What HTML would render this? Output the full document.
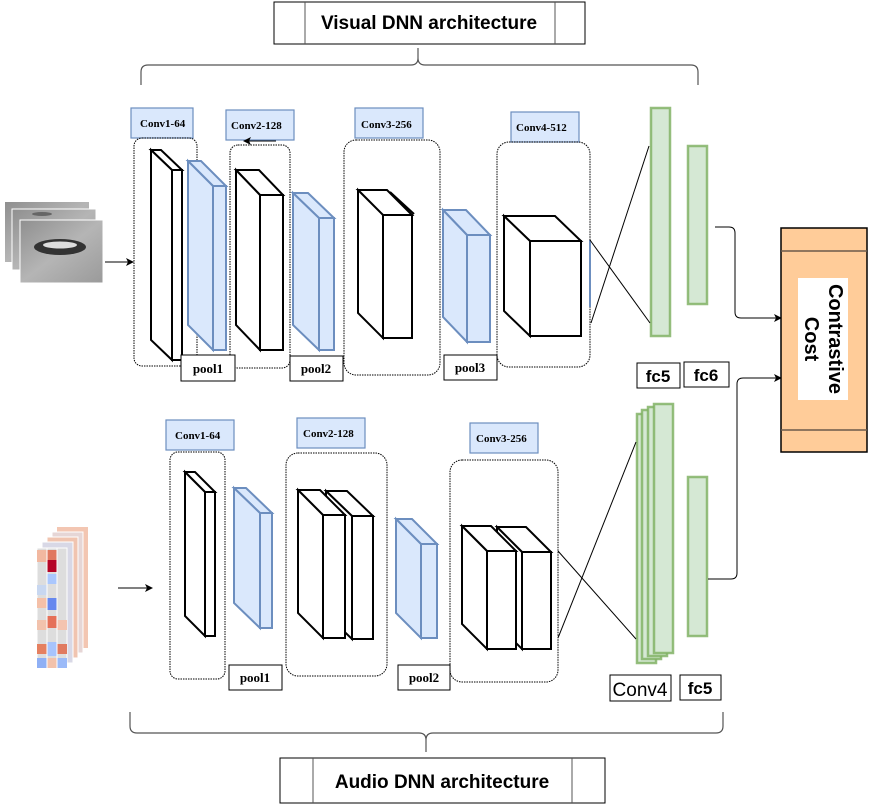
<!DOCTYPE html>
<html><head><meta charset="utf-8"><style>
html,body{margin:0;padding:0;background:#fff;}
svg{display:block;}
text{font-family:"Liberation Serif",serif;font-weight:bold;}
.s{font-family:"Liberation Sans",sans-serif;}
</style></head><body>
<svg width="878" height="806" viewBox="0 0 878 806" xmlns="http://www.w3.org/2000/svg">
<defs>
<marker id="ar" markerWidth="8" markerHeight="8" refX="7" refY="4" orient="auto" markerUnits="userSpaceOnUse"><path d="M0,0 L8,4 L0,8 L2,4 z" fill="#000"/></marker>
<linearGradient id="fg" x1="0" y1="0" x2="1" y2="1"><stop offset="0" stop-color="#8f8f8f"/><stop offset="0.5" stop-color="#b5b5b5"/><stop offset="1" stop-color="#9a9a9a"/></linearGradient>
</defs>

<rect x="274" y="2" width="311" height="42" fill="#fff" stroke="#000" stroke-width="1"/>
<line x1="305" y1="2" x2="305" y2="44" stroke="#555"/>
<line x1="555" y1="2" x2="555" y2="44" stroke="#555"/>
<text class="s" x="429" y="29" font-size="19" text-anchor="middle">Visual DNN architecture</text>
<path d="M141,85 L141,72 Q141,65 148,65 L411,65 Q418,65 418,58 L418,48 M418,58 Q418,65 425,65 L691,65 Q698,65 698,72 L698,85" fill="none" stroke="#555" stroke-width="1.2"/>

<path d="M130,712 L130,726 Q130,733 137,733 L419,733 Q426,733 426,740 L426,752 M426,740 Q426,733 433,733 L716,733 Q723,733 723,726 L723,712" fill="none" stroke="#555" stroke-width="1.2"/>
<rect x="280" y="758" width="325" height="45" fill="#fff" stroke="#000"/>
<line x1="313" y1="758" x2="313" y2="803" stroke="#555"/>
<line x1="572" y1="758" x2="572" y2="803" stroke="#555"/>
<text class="s" x="442" y="788" font-size="19" text-anchor="middle">Audio DNN architecture</text>

<rect x="5" y="202" width="84" height="60" fill="url(#fg)"/>
<rect x="12" y="209" width="84" height="61" fill="url(#fg)" stroke="#fff" stroke-width="1"/>
<rect x="20" y="220" width="83" height="63" fill="url(#fg)" stroke="#fff" stroke-width="1"/>
<ellipse cx="60" cy="247" rx="26" ry="8" fill="#333"/>
<ellipse cx="60" cy="245" rx="17" ry="3.5" fill="#ddd"/>
<ellipse cx="42" cy="214" rx="10" ry="2" fill="#666"/>
<line x1="105" y1="262" x2="133" y2="262" stroke="#000" marker-end="url(#ar)"/>

<g fill="#dae8fc" stroke="#6c8ebf" stroke-width="1.2">
<rect x="131" y="108" width="62" height="30"/>
<rect x="226" y="110" width="68" height="30"/>
<rect x="355" y="108" width="68" height="30"/>
<rect x="511" y="112" width="68" height="30"/>
<rect x="166" y="420" width="68" height="30"/>
<rect x="297" y="418" width="68" height="30"/>
<rect x="470" y="423" width="68" height="30"/>
</g>
<g font-size="11">
<text x="140" y="127">Conv1-64</text>
<text x="231" y="129">Conv2-128</text>
<text x="361" y="128">Conv3-256</text>
<text x="516" y="131">Conv4-512</text>
<text x="175" y="439">Conv1-64</text>
<text x="303" y="437">Conv2-128</text>
<text x="476" y="442">Conv3-256</text>
</g>
<line x1="276" y1="141" x2="244" y2="141" stroke="#000" marker-end="url(#ar)"/>

<g fill="none" stroke="#000" stroke-width="1" stroke-dasharray="1.5,1">
<rect x="134" y="138" width="63" height="228" rx="8"/>
<rect x="230" y="145" width="60" height="223" rx="8"/>
<rect x="344" y="140" width="96" height="235" rx="12"/>
<rect x="497" y="142" width="93" height="225" rx="12"/>
<rect x="170" y="452" width="55" height="227" rx="8"/>
<rect x="286" y="453" width="101" height="223" rx="12"/>
<rect x="450" y="460" width="108" height="222" rx="12"/>
</g>

<g stroke="#000" stroke-width="2" fill="#fff" stroke-linejoin="miter">
<polygon points="151,150 161,150 182,170 172,170"/><polygon points="151,150 172,170 172,360 151,340"/><rect x="172" y="170" width="10" height="190"/>
<polygon points="236,170 259,170 283,195 260,195"/><polygon points="236,170 260,195 260,350 236,325"/><rect x="260" y="195" width="23" height="155"/>
<polygon points="358,190 387,190 412,215 383,215"/><polygon points="358,190 383,215 383,338 358,313"/><rect x="383" y="215" width="29" height="123"/>
<line x1="390" y1="192" x2="414" y2="214"/>
<polygon points="504,216 555,216 581,241 530,241"/><polygon points="504,216 530,241 530,336 504,311"/><rect x="530" y="241" width="51" height="95"/>
<polygon points="185,472 195,472 215,492 205,492"/><polygon points="185,472 205,492 205,636 185,616"/><rect x="205" y="492" width="10" height="144"/>
<polygon points="326,491 347,491 373,516 352,516"/><polygon points="326,491 352,516 352,639 326,614"/><rect x="352" y="516" width="21" height="123"/>
<polygon points="298,490 320,490 345,515 323,515"/><polygon points="298,490 323,515 323,638 298,613"/><rect x="323" y="515" width="22" height="123"/>
<polygon points="497,527 526,527 551,552 522,552"/><polygon points="497,527 522,552 522,649 497,624"/><rect x="522" y="552" width="29" height="97"/>
<polygon points="462,526 491,526 516,551 487,551"/><polygon points="462,526 487,551 487,649 462,624"/><rect x="487" y="551" width="29" height="98"/>
</g>
<g stroke="#6c8ebf" stroke-width="2" fill="#dae8fc">
<polygon points="188,161 201,161 226,186 213,186"/><polygon points="188,161 213,186 213,350 188,325"/><rect x="213" y="186" width="13" height="164"/>
<polygon points="293,193 308,193 334,218 319,218"/><polygon points="293,193 319,218 319,350 293,325"/><rect x="319" y="218" width="15" height="132"/>
<polygon points="443,210 466,210 490,235 467,235"/><polygon points="443,210 467,235 467,342 443,317"/><rect x="467" y="235" width="23" height="107"/>
<polygon points="234,488 246,488 272,513 260,513"/><polygon points="234,488 260,513 260,628 234,603"/><rect x="260" y="513" width="12" height="115"/>
<polygon points="396,519 412,519 437,544 421,544"/><polygon points="396,519 421,544 421,638 396,613"/><rect x="421" y="544" width="16" height="94"/>
</g>
<line x1="590" y1="240" x2="590" y2="307" stroke="#6c8ebf" stroke-width="2"/>

<g fill="#fff" stroke="#000" stroke-width="1">
<rect x="181" y="355" width="54" height="26"/>
<rect x="290" y="356" width="53" height="25"/>
<rect x="444" y="355" width="53" height="25"/>
<rect x="229" y="665" width="53" height="25"/>
<rect x="398" y="665" width="52" height="25"/>
<rect x="637" y="363" width="43" height="25"/>
<rect x="684" y="362" width="45" height="25"/>
<rect x="610" y="675" width="61" height="26"/>
<rect x="680" y="675" width="41" height="25"/>
</g>
<g font-size="13">
<text x="208" y="373" text-anchor="middle">pool1</text>
<text x="316" y="373" text-anchor="middle">pool2</text>
<text x="470" y="372" text-anchor="middle">pool3</text>
<text x="255" y="682" text-anchor="middle">pool1</text>
<text x="424" y="682" text-anchor="middle">pool2</text>
</g>
<text class="s" x="658" y="382" font-size="17" text-anchor="middle">fc5</text>
<text class="s" x="706" y="381" font-size="17" text-anchor="middle">fc6</text>
<text class="s" x="700" y="694" font-size="17" text-anchor="middle">fc5</text>
<text class="s" x="640" y="696" font-size="19" text-anchor="middle" style="font-weight:normal">Conv4</text>

<g fill="#d5e8d4" stroke="#82b366" stroke-width="2.5" stroke-opacity="0.85">
<rect x="651" y="108" width="19" height="228"/>
<rect x="688" y="146" width="19" height="158"/>
<rect x="637" y="414" width="19" height="249"/>
<rect x="642" y="410" width="19" height="249"/>
<rect x="648" y="407" width="19" height="249"/>
<rect x="654" y="404" width="19" height="249"/>
<rect x="688" y="477" width="19" height="159"/>
</g>

<g stroke="#000" stroke-width="1" fill="none">
<line x1="590" y1="240" x2="650" y2="323"/>
<line x1="591" y1="323" x2="649" y2="146"/>
<line x1="558" y1="551" x2="636" y2="639"/>
<line x1="558" y1="638" x2="636" y2="442"/>
<path d="M715,227 L729,227 Q735,227 735,233 L735,312 Q735,318 741,318 L781,318" marker-end="url(#ar)"/>
<path d="M708,579 L731,579 Q737,579 737,573 L737,384 Q737,378 743,378 L781,378" marker-end="url(#ar)"/>
</g>

<rect x="781" y="228" width="86" height="224" fill="#ffcc99" stroke="#000" stroke-width="1.5"/>
<line x1="781" y1="251" x2="867" y2="251" stroke="#6b5a4a" stroke-width="1.5"/>
<line x1="781" y1="430" x2="867" y2="430" stroke="#6b5a4a" stroke-width="1.5"/>
<rect x="798" y="278" width="50" height="122" fill="#fff"/>
<text class="s" transform="translate(823,339) rotate(90)" font-size="20" text-anchor="middle"><tspan x="0" y="-6">Contrastive</tspan><tspan x="0" y="18">Cost</tspan></text>

<g>
<rect x="57" y="527" width="31" height="121" fill="#f3c6b2"/>
<rect x="52" y="532" width="31" height="121" fill="#e6d6d6" stroke="#fff"/>
<rect x="47" y="537" width="31" height="121" fill="#f0c4b0" stroke="#fff"/>
<rect x="42" y="542" width="31" height="121" fill="#d8d8e6" stroke="#fff"/>
<rect x="37" y="548" width="30" height="120" fill="#ddd" stroke="#fff"/>
<rect x="37" y="550" width="10" height="12" fill="#f2b8a0"/>
<rect x="47" y="550" width="10" height="10" fill="#e07860"/>
<rect x="47" y="560" width="10" height="12" fill="#b40426"/>
<rect x="47" y="574" width="10" height="10" fill="#aac7fd"/>
<rect x="37" y="585" width="10" height="10" fill="#c8d7f0"/>
<rect x="47" y="598" width="10" height="12" fill="#6788ee"/>
<rect x="37" y="598" width="10" height="10" fill="#f4c0a8"/>
<rect x="47" y="616" width="10" height="12" fill="#e57058"/>
<rect x="37" y="620" width="10" height="10" fill="#f2c2ac"/>
<rect x="57" y="620" width="10" height="10" fill="#f4c4b0"/>
<rect x="37" y="644" width="10" height="10" fill="#e58060"/>
<rect x="57" y="644" width="10" height="10" fill="#e07a60"/>
<rect x="47" y="642" width="10" height="14" fill="#a8c4fc"/>
<rect x="37" y="658" width="10" height="10" fill="#8fb0f5"/>
<rect x="47" y="658" width="10" height="10" fill="#f2c2ac"/>
<rect x="57" y="658" width="10" height="10" fill="#9bbaf8"/>
<line x1="47" y1="548" x2="47" y2="668" stroke="#fff"/>
<line x1="57" y1="548" x2="57" y2="668" stroke="#fff"/>
</g>
<line x1="118" y1="588" x2="152" y2="588" stroke="#000" marker-end="url(#ar)"/>
</svg>
</body></html>
